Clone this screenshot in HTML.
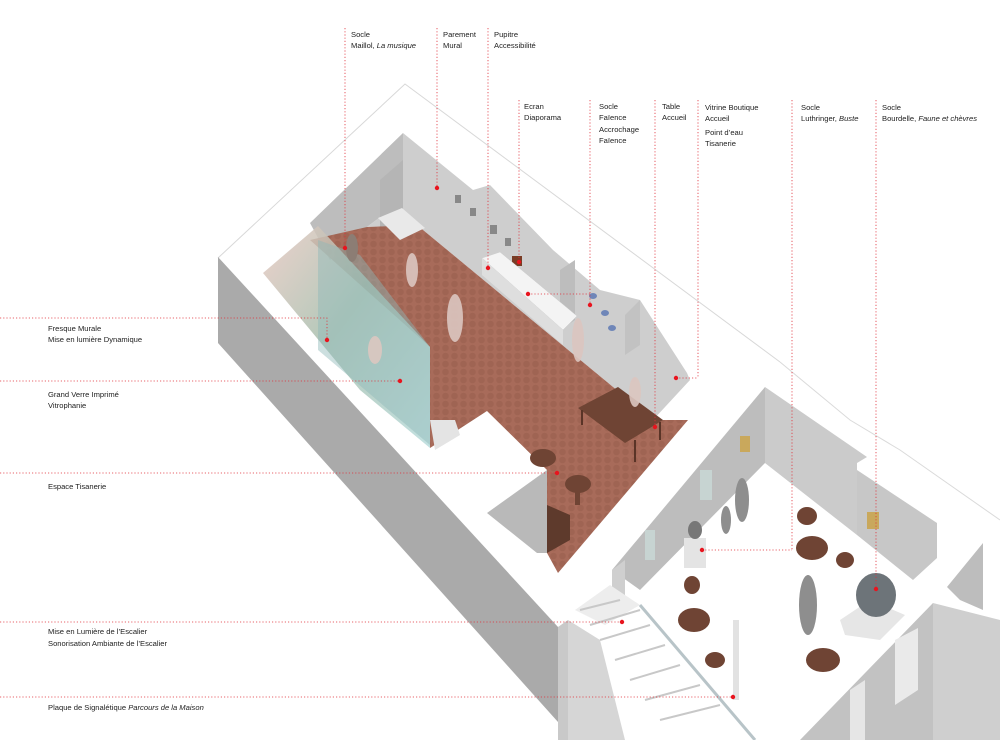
<!DOCTYPE html>
<html><head><meta charset="utf-8"><style>
html,body{margin:0;padding:0;background:#fff;}
svg{display:block;}
text{font-family:"Liberation Sans",Arial,sans-serif;font-size:7.6px;fill:#222;}
.l{stroke:#e0303a;stroke-width:0.8;stroke-dasharray:1.2 2;fill:none;}
.d{fill:#e8141e;}
</style></head><body>
<svg width="1000" height="740" viewBox="0 0 1000 740" xmlns="http://www.w3.org/2000/svg">
<defs>
<pattern id="tile" width="9" height="8" patternUnits="userSpaceOnUse">
<rect width="9" height="8" fill="#a86b5a"/>
<circle cx="4.5" cy="4" r="3.3" fill="#9f6453"/>
</pattern>
<linearGradient id="glass" x1="0" y1="0" x2="1" y2="1">
<stop offset="0" stop-color="#e9c9c2"/><stop offset="0.45" stop-color="#a7bfae"/><stop offset="1" stop-color="#b9dcdc"/>
</linearGradient>
</defs>

<!-- outer outlines -->
<polyline points="218,258 405,84 780,362" fill="none" stroke="#d8d8d8" stroke-width="1"/>
<polyline points="780,362 850,420 900,450 1000,520" fill="none" stroke="#dadada" stroke-width="1"/>

<!-- left long grey wall face -->
<polygon points="218,257 558,627 558,722 218,343" fill="#aaaaaa"/>
<polygon points="558,627 568,620 568,740 558,740" fill="#c9c9c9"/>
<polygon points="568,620 600,640 625,740 568,740" fill="#d6d6d6"/>

<!-- main room back walls -->
<polygon points="310,223 403,133 403,200 367,227 330,260" fill="#bdbdbd"/>
<polygon points="403,133 473,190 490,185 553,250 600,290 640,300 687,373 690,380 653,420 417,225 367,227 403,200" fill="#cecece"/>
<polygon points="380,180 403,160 403,230 380,237" fill="#b5b5b5"/>
<polygon points="560,270 575,260 575,320 560,330" fill="#bdbdbd"/>
<polygon points="625,315 640,300 640,345 625,355" fill="#c2c2c2"/>
<!-- wall content -->
<g fill="#888"><rect x="455" y="195" width="6" height="8"/><rect x="470" y="208" width="6" height="8"/><rect x="490" y="225" width="7" height="9"/><rect x="505" y="238" width="6" height="8"/></g>
<rect x="512" y="256" width="10" height="10" fill="#7a3c25"/>
<g fill="#6f86b8"><ellipse cx="593" cy="296" rx="4" ry="3"/><ellipse cx="605" cy="313" rx="4" ry="3"/><ellipse cx="612" cy="328" rx="4" ry="3"/></g>

<!-- main floor -->
<polygon points="310,240 367,227 417,225 653,420 688,420 558,573 547,553 547,470 487,411 430,448 430,347" fill="url(#tile)"/>
<polygon points="487,513 547,470 547,553 537,553" fill="#b9b9b9"/>
<polygon points="547,505 570,515 570,540 547,553" fill="#5e3a2c"/>

<!-- glass panel -->
<polygon points="263,273 318,226 430,347 430,448 360,390" fill="url(#glass)" opacity="0.85"/>
<polygon points="318,240 360,255 430,347 430,445 318,350" fill="#8fb7b7" opacity="0.45"/>
<polygon points="430,420 455,420 460,435 435,450" fill="#e4e4e4"/>

<!-- statue corner / white block -->
<polygon points="378,218 402,208 425,228 400,240" fill="#e9e9e9"/>
<ellipse cx="352" cy="248" rx="6" ry="14" fill="#8c7d74"/>

<!-- display counter -->
<polygon points="482,258 500,252 577,316 563,330" fill="#f4f4f4" stroke="#ccc" stroke-width="0.5"/>
<polygon points="482,258 563,330 563,345 482,275" fill="#dedede"/>

<!-- table -->
<polygon points="578,408 618,387 663,420 625,443" fill="#6f4434"/>
<line x1="582" y1="410" x2="582" y2="425" stroke="#5a3427" stroke-width="2"/>
<line x1="635" y1="440" x2="635" y2="462" stroke="#5a3427" stroke-width="2"/>
<line x1="660" y1="422" x2="660" y2="440" stroke="#5a3427" stroke-width="2"/>
<ellipse cx="543" cy="458" rx="13" ry="9" fill="#6f4434"/>
<ellipse cx="578" cy="484" rx="13" ry="9" fill="#6f4434"/>
<rect x="575" y="490" width="5" height="15" fill="#6f4434"/>

<!-- ghost figures -->
<g fill="#dcc6c0" opacity="0.9">
<ellipse cx="412" cy="270" rx="6" ry="17"/><ellipse cx="455" cy="318" rx="8" ry="24"/><ellipse cx="578" cy="340" rx="6" ry="22"/><ellipse cx="635" cy="392" rx="6" ry="15"/><ellipse cx="375" cy="350" rx="7" ry="14"/>
</g>

<!-- right room walls -->
<polygon points="612,570 765,387 765,463 640,590" fill="#bdbdbd"/>
<polygon points="765,387 867,457 857,463 857,535 765,463" fill="#cbcbcb"/>
<polygon points="857,470 937,523 937,558 913,580 857,535" fill="#c7c7c7"/>
<polygon points="947,587 983,543 983,610 960,600" fill="#bdbdbd"/>
<polygon points="800,740 933,603 933,740" fill="#c2c2c2"/>
<polygon points="933,603 1000,620 1000,740 933,740" fill="#cfcfcf"/>
<polygon points="895,640 918,628 918,690 895,705" fill="#eaeaea"/>
<polygon points="850,690 865,680 865,740 850,740" fill="#e6e6e6"/>
<polygon points="612,570 625,560 625,600 612,610" fill="#cfcfcf"/>

<!-- stairs -->
<polygon points="575,610 610,585 640,605 605,625" fill="#ededed"/>
<g stroke="#c8c8c8" stroke-width="2">
<line x1="580" y1="610" x2="620" y2="600"/><line x1="590" y1="625" x2="640" y2="610"/><line x1="600" y1="640" x2="650" y2="625"/>
<line x1="615" y1="660" x2="665" y2="645"/><line x1="630" y1="680" x2="680" y2="665"/><line x1="645" y1="700" x2="700" y2="685"/><line x1="660" y1="720" x2="720" y2="705"/>
</g>
<line x1="640" y1="605" x2="755" y2="740" stroke="#b8c4c8" stroke-width="3"/>
<rect x="733" y="620" width="6" height="80" fill="#e2e2e2"/>

<!-- right room furniture -->
<g fill="#6f4434">
<ellipse cx="812" cy="548" rx="16" ry="12"/><ellipse cx="807" cy="516" rx="10" ry="9"/><ellipse cx="845" cy="560" rx="9" ry="8"/>
<ellipse cx="694" cy="620" rx="16" ry="12"/><ellipse cx="692" cy="585" rx="8" ry="9"/><ellipse cx="715" cy="660" rx="10" ry="8"/>
<ellipse cx="823" cy="660" rx="17" ry="12"/>
</g>
<g fill="#8e8e8e">
<ellipse cx="742" cy="500" rx="7" ry="22"/><ellipse cx="726" cy="520" rx="5" ry="14"/><ellipse cx="808" cy="605" rx="9" ry="30"/>
</g>
<rect x="684" y="538" width="22" height="30" fill="#e4e4e4"/>
<ellipse cx="695" cy="530" rx="7" ry="9" fill="#777"/>
<polygon points="840,620 870,600 905,615 880,640 845,635" fill="#e6e6e6"/>
<ellipse cx="876" cy="595" rx="20" ry="22" fill="#6d7479"/>
<rect x="740" y="436" width="10" height="16" fill="#c9a85c"/>
<rect x="867" y="512" width="12" height="17" fill="#c9a85c"/>
<rect x="700" y="470" width="12" height="30" fill="#c7d4d2"/>
<rect x="645" y="530" width="10" height="30" fill="#c7d4d2"/>

<!-- leader lines -->
<path class="l" d="M345,28V248 M437,28V188 M488,28V268 M519,100V262 M590,100V305 M528,294H590 M655,100V427 M698,100V378 M676,378H698 M792,100V550 M702,550H792 M876,100V589"/>
<path class="l" d="M0,318H327V340 M0,381H400 M0,473H557 M0,622H622 M0,697H733"/>
<g class="d">
<circle cx="345" cy="248" r="2.2"/><circle cx="437" cy="188" r="2.2"/><circle cx="488" cy="268" r="2.2"/><circle cx="519" cy="262" r="2.2"/>
<circle cx="528" cy="294" r="2.2"/><circle cx="590" cy="305" r="2.2"/><circle cx="655" cy="427" r="2.2"/><circle cx="676" cy="378" r="2.2"/>
<circle cx="702" cy="550" r="2.2"/><circle cx="876" cy="589" r="2.2"/><circle cx="327" cy="340" r="2.2"/><circle cx="400" cy="381" r="2.2"/>
<circle cx="557" cy="473" r="2.2"/><circle cx="622" cy="622" r="2.2"/><circle cx="733" cy="697" r="2.2"/>
</g>

<!-- labels -->
<text x="351" y="37">Socle</text><text x="351" y="48">Maillol, <tspan font-style="italic">La musique</tspan></text>
<text x="443" y="37">Parement</text><text x="443" y="48">Mural</text>
<text x="494" y="37">Pupitre</text><text x="494" y="48">Accessibilité</text>
<text x="524" y="109">Ecran</text><text x="524" y="120">Diaporama</text>
<text x="599" y="109">Socle</text><text x="599" y="120">Faïence</text><text x="599" y="132">Accrochage</text><text x="599" y="143">Faïence</text>
<text x="662" y="109">Table</text><text x="662" y="120">Accueil</text>
<text x="705" y="110">Vitrine Boutique</text><text x="705" y="121">Accueil</text><text x="705" y="135">Point d’eau</text><text x="705" y="146">Tisanerie</text>
<text x="801" y="110">Socle</text><text x="801" y="121">Luthringer, <tspan font-style="italic">Buste</tspan></text>
<text x="882" y="110">Socle</text><text x="882" y="121">Bourdelle, <tspan font-style="italic">Faune et chèvres</tspan></text>
<text x="48" y="331">Fresque Murale</text><text x="48" y="342">Mise en lumière Dynamique</text>
<text x="48" y="397">Grand Verre Imprimé</text><text x="48" y="408">Vitrophanie</text>
<text x="48" y="489">Espace Tisanerie</text>
<text x="48" y="634">Mise en Lumière de l’Escalier</text><text x="48" y="646">Sonorisation Ambiante de l’Escalier</text>
<text x="48" y="710">Plaque de Signalétique <tspan font-style="italic">Parcours de la Maison</tspan></text>
</svg>
</body></html>
